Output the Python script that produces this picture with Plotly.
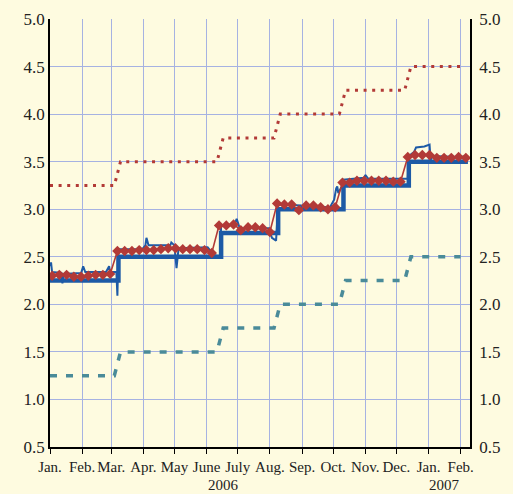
import plotly.graph_objects as go
import pandas as pd

# ---- data ----
change_dates = ["2006-01-01", "2006-03-08", "2006-06-15", "2006-08-09", "2006-10-11", "2006-12-13"]
mro_rate = [2.25, 2.50, 2.75, 3.00, 3.25, 3.50]
lending_rate = [3.25, 3.50, 3.75, 4.00, 4.25, 4.50]
deposit_rate = [1.25, 1.50, 1.75, 2.00, 2.25, 2.50]
mro_end = "2007-02-08"
facility_end = "2007-02-01"

tender_dates = pd.date_range("2006-01-03", "2007-02-06", freq="7D").strftime("%Y-%m-%d").tolist()
tender_rate = [2.30, 2.31, 2.31, 2.29, 2.29, 2.30, 2.31, 2.31, 2.32,
               2.56, 2.56, 2.56, 2.57, 2.57, 2.57, 2.58, 2.59, 2.59, 2.58, 2.58, 2.58, 2.57, 2.54,
               2.83, 2.83, 2.84, 2.78, 2.81, 2.81, 2.80, 2.76,
               3.06, 3.05, 3.05, 2.99, 3.04, 3.04, 3.02, 3.00, 3.02,
               3.28, 3.28, 3.30, 3.30, 3.30, 3.30, 3.30, 3.29, 3.29,
               3.55, 3.57, 3.57, 3.57, 3.54, 3.54, 3.54, 3.55, 3.54]

eonia_dates = ["2006-01-01", "2006-01-02", "2006-01-03", "2006-01-12", "2006-01-13", "2006-01-14",
               "2006-01-31", "2006-02-02", "2006-02-04", "2006-02-24", "2006-02-27", "2006-02-28",
               "2006-03-06", "2006-03-07", "2006-03-08", "2006-03-31", "2006-04-03", "2006-04-04",
               "2006-04-06", "2006-04-27", "2006-04-28", "2006-05-01", "2006-05-03", "2006-05-05",
               "2006-06-02", "2006-06-08", "2006-06-14", "2006-06-15", "2006-06-28", "2006-06-30",
               "2006-07-03", "2006-07-31", "2006-08-03", "2006-08-07", "2006-08-09", "2006-08-31",
               "2006-09-01", "2006-09-04", "2006-09-28", "2006-10-02", "2006-10-04", "2006-10-05",
               "2006-10-06", "2006-10-10", "2006-10-11", "2006-10-31", "2006-11-01", "2006-11-04",
               "2006-12-12", "2006-12-13", "2006-12-18", "2006-12-20", "2006-12-28", "2007-01-02",
               "2007-01-03", "2007-01-05", "2007-01-29", "2007-01-31", "2007-02-01", "2007-02-08"]
eonia_rate = [2.40, 2.44, 2.34, 2.33, 2.22, 2.32,
              2.33, 2.40, 2.34, 2.34, 2.40, 2.34,
              2.34, 2.09, 2.58, 2.58, 2.62, 2.70,
              2.62, 2.62, 2.65, 2.62, 2.38, 2.59,
              2.60, 2.52, 2.50, 2.83, 2.84, 2.90,
              2.80, 2.80, 2.70, 2.67, 3.05, 3.04,
              2.99, 3.03, 3.02, 3.10, 3.22, 3.24,
              3.17, 3.25, 3.31, 3.33, 3.36, 3.32,
              3.32, 3.56, 3.60, 3.65, 3.66, 3.68,
              3.52, 3.56, 3.55, 3.49, 3.55, 3.56]

month_ticks = pd.date_range("2006-01-01", "2007-02-01", freq="MS").strftime("%Y-%m-%d").tolist()
month_labels = ["Jan.", "Feb.", "Mar.", "Apr.", "May", "June", "July", "Aug.", "Sep.",
                "Oct.", "Nov.", "Dec.", "Jan.", "Feb."]
year_labels = ["2006", "2007"]
y_ticks = [0.5, 1.0, 1.5, 2.0, 2.5, 3.0, 3.5, 4.0, 4.5, 5.0]


def ramped(dates, values, end):
    xs, ys = [dates[0]], [values[0]]
    for i in range(1, len(dates)):
        d = pd.Timestamp(dates[i])
        xs += [(d - pd.Timedelta(days=4)).strftime("%Y-%m-%d"), (d + pd.Timedelta(days=2)).strftime("%Y-%m-%d")]
        ys += [values[i - 1], values[i]]
    xs.append(end)
    ys.append(values[-1])
    return xs, ys


BG = "#FEFBE0"
GRID = "#A6B2E2"
BLUE = "#1D5AA6"
RED = "#B23A37"
TEAL = "#4A8B99"
FONT = "Liberation Serif"
TXT = "#222222"

fig = go.Figure()

lx, ly = ramped(change_dates, lending_rate, facility_end)
fig.add_trace(go.Scatter(x=lx, y=ly, mode="lines",
                         line=dict(color=RED, width=3, dash="3px,5.6px"), hoverinfo="skip"))
dx, dy = ramped(change_dates, deposit_rate, facility_end)
fig.add_trace(go.Scatter(x=dx, y=dy, mode="lines",
                         line=dict(color=TEAL, width=3.5, dash="7px,9px"), hoverinfo="skip"))
fig.add_trace(go.Scatter(x=change_dates + [mro_end], y=mro_rate + [mro_rate[-1]], mode="lines",
                         line=dict(color=BLUE, width=4.5, shape="hv"), hoverinfo="skip"))
fig.add_trace(go.Scatter(x=eonia_dates, y=eonia_rate, mode="lines",
                         line=dict(color=BLUE, width=2), hoverinfo="skip"))
fig.add_trace(go.Scatter(x=tender_dates, y=tender_rate, mode="lines+markers",
                         line=dict(color=RED, width=1.6),
                         marker=dict(symbol="diamond", size=8, color=RED), hoverinfo="skip"))
fig.add_trace(go.Scatter(x=[change_dates[0]], y=[None], yaxis="y2", showlegend=False))

fig.update_layout(
    width=513, height=494,
    margin=dict(l=50, r=43, t=19, b=47),
    paper_bgcolor=BG, plot_bgcolor=BG,
    showlegend=False,
    font=dict(family=FONT, color=TXT),
    xaxis=dict(range=["2006-01-01", "2007-02-10"], tickvals=month_ticks, ticktext=month_labels,
               showgrid=True, gridcolor=GRID, gridwidth=1, zeroline=False, automargin=False,
               showline=True, linecolor="black", linewidth=1.5, tickangle=0,
               ticks="outside", ticklen=5, tickcolor="black", tickwidth=1.2,
               tickfont=dict(family=FONT, size=15, color=TXT)),
    yaxis=dict(range=[0.5, 5.0], tickvals=y_ticks, tickformat=".1f", automargin=False,
               showgrid=True, gridcolor=GRID, gridwidth=1, zeroline=False,
               showline=True, linecolor="black", linewidth=1.5, ticks="",
               tickfont=dict(family=FONT, size=17, color=TXT)),
    yaxis2=dict(range=[0.5, 5.0], tickvals=y_ticks, tickformat=".1f", overlaying="y", side="right",
                automargin=False, showgrid=False, zeroline=False, showline=True,
                linecolor="black", linewidth=1.5, ticks="", ticklabelstandoff=4,
                tickfont=dict(family=FONT, size=17, color=TXT)),
)

for txt, xd in zip(year_labels, ["2006-06-17", "2007-01-16"]):
    fig.add_annotation(x=xd, y=0, xref="x", yref="paper", yshift=-38, yanchor="middle", text=txt,
                       showarrow=False, font=dict(family=FONT, size=15, color=TXT))

fig.write_html("out.html", config={"displayModeBar": False},
               post_script="document.body.style.margin='0';document.body.style.background='" + BG + "';")
